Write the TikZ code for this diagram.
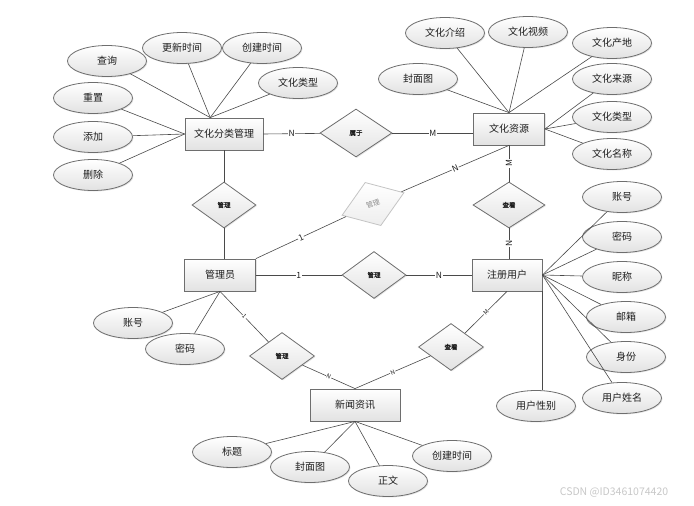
\documentclass[tikz,border=0pt]{standalone}
\usepackage{fontspec}
\setmainfont{Noto Sans CJK SC}
\newfontfamily\relfont[FakeBold=1.5]{Noto Sans CJK SC}
\usepackage{tikz}
\usetikzlibrary{positioning,shapes.geometric,shadows}
\definecolor{erInk}{HTML}{1E1E1E}
\definecolor{erEdge}{HTML}{6E6E6E}
\definecolor{erLine}{HTML}{4A4A4A}
\definecolor{erShade}{HTML}{E2E2E2}
\definecolor{erGhost}{HTML}{C4C4C4}
\definecolor{erGhostText}{HTML}{8C8C8C}
\definecolor{erMark}{HTML}{C8C8C8}
\tikzset{
  every picture/.style={font=\fontsize{10}{12}\selectfont, text=erInk},
  er fill/.style={draw=erEdge, line width=0.8pt, top color=white, bottom color=erShade,
    drop shadow={shadow xshift=1pt, shadow yshift=-1pt, opacity=0.2}},
  er entity/.style={er fill, rectangle, minimum height=32pt, inner sep=0pt},
  er attr/.style={er fill, ellipse, minimum width=79pt, minimum height=31pt, inner sep=0pt},
  er rel/.style={er fill, diamond, minimum width=65pt, minimum height=47pt, inner sep=0pt,
    font=\relfont\fontsize{6.5}{8}\selectfont},
  er ghost/.style={diamond, draw=erGhost, line width=0.8pt, top color=white,
    bottom color=erShade!60, minimum width=66pt, minimum height=46pt, inner sep=0pt,
    text=erGhostText, font=\fontsize{7}{8}\selectfont},
  er line/.style={draw=erLine, line width=0.6pt},
  er card/.style={fill=white, inner sep=0.6pt, font=\fontsize{8.5}{10}\selectfont},
  er tiny/.style={er card, sloped, font=\fontsize{6}{7}\selectfont}
}

\begin{document}
\begin{tikzpicture}[x=1pt,y=-1pt]
  \fill[white] (0,0) rectangle (694,506);
  \useasboundingbox (0,0) rectangle (694,506);

  % entities
  \node[er entity, minimum width=78pt] (cat) at (224,134) {文化分类管理};
  \node[er entity, minimum width=71pt] (res) at (509,129) {文化资源};
  \node[er entity, minimum width=71pt] (admin) at (220,275) {管理员};
  \node[er entity, minimum width=70pt] (user) at (507,275) {注册用户};
  \node[er entity, minimum width=90pt] (news) at (355,405) {新闻资讯};

  % relations
  \node[er rel, minimum width=72pt, minimum height=48pt] (belong) at (356,133) {属于};
  \node[er rel, minimum width=64pt, minimum height=46pt] (manageCat) at (224,205) {管理};
  \node[er ghost, rotate=20] (manageRes) at (373,204) {管理};
  \node[er rel, minimum width=72pt, minimum height=46pt] (viewRes) at (509,205) {查看};
  \node[er rel, minimum width=64pt] (manageUser) at (374,275) {管理};
  \node[er rel] (manageNews) at (282,356) {管理};
  \node[er rel] (viewNews) at (451,347) {查看};

  % attributes of 文化分类管理
  \node[er attr] (catQuery) at (107,61) {查询};
  \node[er attr] (catUpdate) at (182,48) {更新时间};
  \node[er attr] (catCreate) at (262,48) {创建时间};
  \node[er attr] (catType) at (298,83) {文化类型};
  \node[er attr] (catReset) at (93,98) {重置};
  \node[er attr] (catAdd) at (93,137) {添加};
  \node[er attr] (catDel) at (93,175) {删除};

  % attributes of 文化资源
  \node[er attr] (resIntro) at (445,33) {文化介绍};
  \node[er attr] (resVideo) at (528,32) {文化视频};
  \node[er attr] (resOrigin) at (612,43) {文化产地};
  \node[er attr] (resCover) at (418,79) {封面图};
  \node[er attr] (resSource) at (612,79) {文化来源};
  \node[er attr] (resType) at (612,117) {文化类型};
  \node[er attr] (resName) at (612,154) {文化名称};

  % attributes of 注册用户
  \node[er attr] (userAcc) at (622,197) {账号};
  \node[er attr] (userPwd) at (622,237) {密码};
  \node[er attr] (userNick) at (622,277) {昵称};
  \node[er attr] (userMail) at (626,317) {邮箱};
  \node[er attr] (userRole) at (626,357) {身份};
  \node[er attr] (userName) at (622,398) {用户姓名};
  \node[er attr] (userSex) at (536,406) {用户性别};

  % attributes of 管理员
  \node[er attr] (adminAcc) at (133,323) {账号};
  \node[er attr] (adminPwd) at (185,349) {密码};

  % attributes of 新闻资讯
  \node[er attr] (newsTitle) at (232,452) {标题};
  \node[er attr] (newsCover) at (310,467) {封面图};
  \node[er attr] (newsBody) at (388,481) {正文};
  \node[er attr] (newsTime) at (452,456) {创建时间};

  % attribute links
  \foreach \a in {catQuery,catUpdate,catCreate,catType}
    \draw[er line] (\a) -- (cat.130);
  \foreach \a in {catReset,catAdd,catDel}
    \draw[er line] (\a) -- (cat.west);
  \foreach \a in {resCover,resIntro,resVideo,resOrigin}
    \draw[er line] (\a) -- (res.north);
  \foreach \a in {resSource,resType,resName}
    \draw[er line] (\a) -- (res.east);
  \foreach \a in {userAcc,userPwd,userNick,userMail,userRole,userName}
    \draw[er line] (\a) -- (user.east);
  \draw[er line] (user.south east) -- (userSex.north -| user.south east);
  \foreach \a in {adminAcc,adminPwd}
    \draw[er line] (\a) -- (admin.south);
  \foreach \a in {newsTitle,newsCover,newsBody,newsTime}
    \draw[er line] (\a) -- (news.south);

  % relation links
  \draw[er line] (cat.east) -- node[er card] {N} (belong);
  \draw[er line] (belong.east) -- node[er card] {M} (belong.east -| res.west);
  \draw[er line] (cat) -- (manageCat);
  \draw[er line] (manageCat) -- (manageCat |- admin.north);
  \draw[er line] (admin.north east) -- node[er card, sloped] {1} (manageRes);
  \draw[er line] (manageRes) -- node[er card, sloped] {N} (res.south);
  \draw[er line] (res.south) -- node[er card, rotate=90] {M} (viewRes);
  \draw[er line] (viewRes) -- node[er card, rotate=90] {N} (viewRes |- user.north);
  \draw[er line] (admin.east) -- node[er card] {1} (manageUser);
  \draw[er line] (manageUser) -- node[er card] {N} (user.west);
  \draw[er line] (admin.south) -- node[er tiny] {1} (manageNews);
  \draw[er line] (manageNews) -- node[er tiny] {N} (news.north);
  \draw[er line] (user.south) -- node[er tiny] {M} (viewNews);
  \draw[er line] (viewNews) -- node[er tiny] {N} (news.north);

  \node[text=erMark, font=\fontsize{10.5}{12}\selectfont] (mark) at (614,492) {CSDN @ID3461074420};
\end{tikzpicture}
\end{document}
